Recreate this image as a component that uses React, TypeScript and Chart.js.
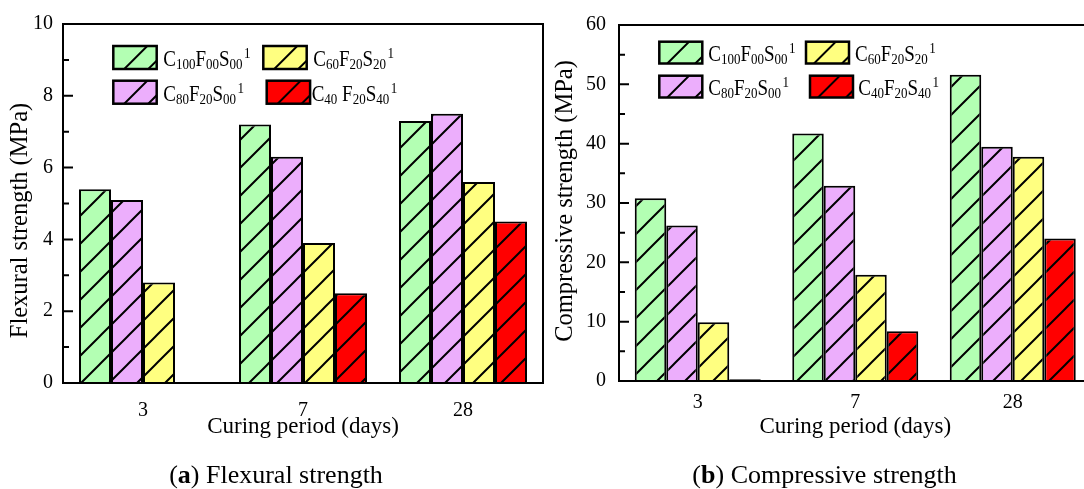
import React, { useEffect, useRef } from 'react';
import { Chart, registerables } from 'chart.js';

Chart.register(...registerables);

const FONT = '"Liberation Serif", "Times New Roman", serif';
const PAGE_H = 489;

// Curing ages on the x axis
const curingDays = ['3', '7', '28'];

// Mix designations (markup: _{..} subscript, ^{..} superscript)
const flexuralNames = ['C_{100}F_{00}S_{00}^{1}', 'C_{80}F_{20}S_{00}^{1}', 'C_{60}F_{20}S_{20}^{1}', 'C_{40} F_{20}S_{40}^{1}'];
const compressiveNames = ['C_{100}F_{00}S_{00}^{1}', 'C_{80}F_{20}S_{00}^{1}', 'C_{60}F_{20}S_{20}^{1}', 'C_{40}F_{20}S_{40}^{1}'];
const mixColors = ['#B3FFB3', '#ECAEFC', '#FFFF80', '#FF0000'];

// Flexural strength, MPa
const flexC100 = [5.4, 7.2, 7.3];
const flexC80 = [5.1, 6.3, 7.5];
const flexC60 = [2.8, 3.9, 5.6];
const flexC40 = [0, 2.5, 4.5];

// Compressive strength, MPa
const compC100 = [30.8, 41.7, 51.6];
const compC80 = [26.2, 32.9, 39.5];
const compC60 = [9.9, 17.9, 37.8];
const compC40 = [0.3, 8.4, 24.0];

type Part = { text: string; kind: 'n' | 'sub' | 'sup' };

function parseRich(s: string): Part[] {
  const out: Part[] = [];
  const re = /([_^])\{([^}]*)\}|([^_^]+)/g;
  let m: RegExpExecArray | null;
  while ((m = re.exec(s))) {
    if (m[3]) out.push({ text: m[3], kind: 'n' });
    else out.push({ text: m[2], kind: m[1] === '_' ? 'sub' : 'sup' });
  }
  return out;
}

function drawRich(ctx: CanvasRenderingContext2D, markup: string, x: number, baseline: number) {
  const sy = 1.2;
  ctx.save();
  ctx.translate(x, baseline);
  ctx.scale(1, sy);
  ctx.fillStyle = '#000';
  ctx.textBaseline = 'alphabetic';
  ctx.textAlign = 'left';
  let cx = 0;
  for (const p of parseRich(markup)) {
    const size = p.kind === 'n' ? 19 : 13;
    ctx.font = `${size}px ${FONT}`;
    let dy = 0;
    if (p.kind === 'sub') dy = 3 / sy;
    if (p.kind === 'sup') {
      dy = -8.4 / sy;
      cx += 1.5;
    }
    ctx.fillText(p.text, cx, dy);
    cx += ctx.measureText(p.text).width;
  }
  ctx.restore();
}

function hatchPattern(color: string, period: number, phase: number): CanvasPattern {
  const c = document.createElement('canvas');
  c.width = period;
  c.height = period;
  const g = c.getContext('2d')!;
  g.fillStyle = color;
  g.fillRect(0, 0, period, period);
  g.strokeStyle = '#000';
  g.lineWidth = 2;
  g.beginPath();
  g.moveTo(-3, period + 3);
  g.lineTo(period + 3, -3);
  g.moveTo(-3, 3);
  g.lineTo(3, -3);
  g.moveTo(period - 3, period + 3);
  g.lineTo(period + 3, period - 3);
  g.stroke();
  const p = g.createPattern(c, 'repeat')!;
  p.setTransform(new DOMMatrix().translate(phase, 0));
  return p;
}

// Frame, inward y ticks, rotated y title and the hatched legend
const framePlugin = {
  id: 'frame',
  afterDatasetsDraw(chart: any, _args: any, opts: any) {
    const { ctx, chartArea: a, scales } = chart;
    const y = scales.y;
    ctx.save();
    ctx.strokeStyle = '#000';
    ctx.lineWidth = 2;
    ctx.strokeRect(a.left, a.top, a.right - a.left, a.bottom - a.top);

    ctx.beginPath();
    for (let v = y.min; v <= y.max + 1e-9; v += opts.minorStep) {
      const py = y.getPixelForValue(v);
      const r = v / opts.majorStep;
      const major = Math.abs(r - Math.round(r)) < 1e-6;
      ctx.moveTo(a.left, py);
      ctx.lineTo(a.left + (major ? 10 : 6), py);
    }
    ctx.stroke();

    // y axis title
    ctx.save();
    ctx.translate(opts.yTitleX, opts.yTitleY);
    ctx.rotate(-Math.PI / 2);
    ctx.font = `${opts.yTitleSize}px ${FONT}`;
    ctx.fillStyle = '#000';
    ctx.textAlign = 'center';
    ctx.textBaseline = 'middle';
    ctx.fillText(opts.yTitle, 0, 0);
    ctx.restore();

    // legend
    const lg = opts.legend;
    chart.data.datasets.forEach((ds: any, i: number) => {
      const b = lg.boxes[i];
      ctx.save();
      ctx.fillStyle = mixColors[i];
      ctx.fillRect(b.x, b.y, lg.boxW, lg.boxH);
      ctx.beginPath();
      ctx.rect(b.x, b.y, lg.boxW, lg.boxH);
      ctx.clip();
      ctx.beginPath();
      ctx.lineWidth = 2;
      for (const off of lg.hatchOffsets) {
        const x0 = b.x + off;
        const y0 = b.y + lg.boxH;
        ctx.moveTo(x0, y0);
        ctx.lineTo(x0 + lg.boxH + 4, y0 - lg.boxH - 4);
      }
      ctx.stroke();
      ctx.restore();
      ctx.lineWidth = 2.5;
      ctx.strokeRect(b.x, b.y, lg.boxW, lg.boxH);
      drawRich(ctx, ds.label, lg.textX[i], b.y + lg.boxH / 2 + 8.7);
    });
    ctx.restore();
  },
};

type Spec = {
  names: string[];
  series: number[][];
  yMax: number;
  majorStep: number;
  minorStep: number;
  width: number;
  plotLeft: number;
  plotRight: number;
  plotTop: number;
  plotBottom: number;
  yLabelPad: number;
  xLabelPad: number;
  yTitle: string;
  yTitleX: number;
  yTitleY: number;
  phase: number;
  legend: any;
};

function StrengthChart({ spec, left }: { spec: Spec; left: number }) {
  const ref = useRef<HTMLCanvasElement>(null);
  useEffect(() => {
    const patterns = mixColors.map((c) => hatchPattern(c, 28, spec.phase));
    const chart = new Chart(ref.current!, {
      type: 'bar',
      data: {
        labels: curingDays,
        datasets: spec.series.map((vals, i) => ({
          label: spec.names[i],
          data: vals,
          backgroundColor: patterns[i],
          borderColor: '#000',
          borderWidth: 2,
          borderSkipped: 'start',
          categoryPercentage: 0.8,
          barPercentage: 1,
        })),
      },
      options: {
        responsive: false,
        animation: false,
        layout: { padding: { top: spec.plotTop, right: spec.width - spec.plotRight, left: 0, bottom: 0 } },
        plugins: {
          legend: { display: false },
          tooltip: { enabled: false },
          frame: {
            majorStep: spec.majorStep,
            minorStep: spec.minorStep,
            yTitle: spec.yTitle,
            yTitleX: spec.yTitleX,
            yTitleY: spec.yTitleY,
            yTitleSize: 24.5,
            legend: spec.legend,
          },
        } as any,
        scales: {
          x: {
            type: 'category',
            offset: true,
            grid: { display: false, drawTicks: false, tickLength: 0 },
            border: { display: false },
            ticks: { color: '#000', font: { family: FONT, size: 20 }, padding: spec.xLabelPad },
            title: {
              display: true,
              text: 'Curing period (days)',
              color: '#000',
              font: { family: FONT, size: 23 },
              padding: { top: 0, bottom: 48.5 },
            },
            afterFit: (s: any) => {
              s.height = PAGE_H - spec.plotBottom;
            },
          },
          y: {
            min: 0,
            max: spec.yMax,
            grid: { display: false, drawTicks: false, tickLength: 0 },
            border: { display: false },
            ticks: { stepSize: spec.majorStep, color: '#000', font: { family: FONT, size: 20 }, padding: spec.yLabelPad },
            afterFit: (s: any) => {
              s.width = spec.plotLeft;
            },
          },
        },
      },
      plugins: [framePlugin],
    } as any);
    return () => chart.destroy();
  }, [spec]);
  return (
    <canvas
      ref={ref}
      width={spec.width}
      height={PAGE_H}
      style={{ position: 'absolute', left, top: 0, width: spec.width, height: PAGE_H, display: 'block' }}
    />
  );
}

const flexSpec: Spec = {
  names: flexuralNames,
  series: [flexC100, flexC80, flexC60, flexC40],
  yMax: 10,
  majorStep: 2,
  minorStep: 1,
  width: 546,
  plotLeft: 63,
  plotRight: 543,
  plotTop: 24,
  plotBottom: 383,
  yLabelPad: 10,
  xLabelPad: 16,
  yTitle: 'Flexural strength (MPa)',
  yTitleX: 20.5,
  yTitleY: 220.5,
  phase: 16,
  legend: {
    boxW: 43.4,
    boxH: 23,
    hatchOffsets: [11, 35],
    boxes: [
      { x: 113.3, y: 46 },
      { x: 113.3, y: 80.7 },
      { x: 263.3, y: 46 },
      { x: 266.7, y: 80.7 },
    ],
    textX: [163.3, 163.3, 313.3, 311.7],
  },
};

const compSpec: Spec = {
  names: compressiveNames,
  series: [compC100, compC80, compC60, compC40],
  yMax: 60,
  majorStep: 10,
  minorStep: 5,
  width: 548,
  plotLeft: 73,
  plotRight: 545.5,
  plotTop: 20.5,
  plotBottom: 381,
  yLabelPad: 13,
  xLabelPad: 10,
  yTitle: 'Compressive strength (MPa)',
  yTitleX: 20,
  yTitleY: 201,
  phase: 16,
  legend: {
    boxW: 43,
    boxH: 21.8,
    hatchOffsets: [8, 36],
    boxes: [
      { x: 113.3, y: 41.7 },
      { x: 113.3, y: 75.7 },
      { x: 260, y: 41.7 },
      { x: 264, y: 75.7 },
    ],
    textX: [162.3, 162.3, 309, 312.3],
  },
};

const captionStyle: React.CSSProperties = {
  position: 'absolute',
  top: 460,
  width: 400,
  textAlign: 'center',
  fontFamily: FONT,
  fontSize: 26,
  lineHeight: '30px',
  color: '#000',
  whiteSpace: 'nowrap',
};

export default function App() {
  return (
    <div
      style={{
        position: 'fixed',
        left: 0,
        top: 0,
        width: 1084,
        height: PAGE_H,
        overflow: 'hidden',
        background: '#fff',
      }}
    >
      <StrengthChart spec={flexSpec} left={0} />
      <StrengthChart spec={compSpec} left={546} />
      <div style={{ ...captionStyle, left: 276 - 200 }}>
        (<b>a</b>) Flexural strength
      </div>
      <div style={{ ...captionStyle, left: 824.5 - 200 }}>
        (<b>b</b>) Compressive strength
      </div>
    </div>
  );
}
